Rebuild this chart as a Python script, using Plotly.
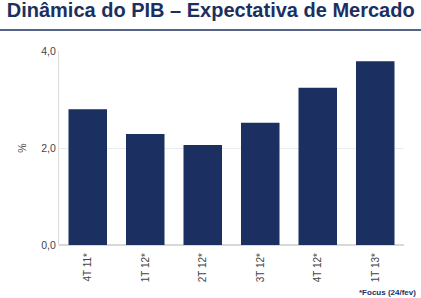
import plotly.graph_objects as go

categories = ["4T 11*", "1T 12*", "2T 12*", "3T 12*", "4T 12*", "1T 13*"]
values = [2.80, 2.29, 2.06, 2.52, 3.24, 3.79]
y_ticks = [0, 2, 4]

navy = "#1b3061"

fig = go.Figure(go.Bar(
    x=categories, y=values, marker=dict(color=navy, line=dict(width=0)),
    width=0.67,
))

fig.update_layout(
    width=421, height=298,
    margin=dict(l=59, r=17, t=51, b=53),
    paper_bgcolor="white", plot_bgcolor="white",
    separators=",.",
    showlegend=False,
    font=dict(family="Liberation Sans, Arial, sans-serif", color="#555555", size=10),
    title=dict(text="<b>Dinâmica do PIB – Expectativa de Mercado</b>",
               x=0.016, xanchor="left", y=0.99, yanchor="top",
               font=dict(size=20, color=navy)),
    shapes=[dict(type="line", xref="paper", yref="paper", x0=-0.2, x1=1.1,
                 y0=1.0 + (51 - 30) / 194, y1=1.0 + (51 - 30) / 194,
                 line=dict(color=navy, width=1.5))],
    annotations=[dict(text="<b>*Focus (24/fev)</b>", xref="paper", yref="paper",
                      x=1.04, y=-0.245, xanchor="right", yanchor="middle",
                      showarrow=False, font=dict(size=8, color=navy))],
)
fig.update_xaxes(tickangle=-90, showline=False, ticks="", ticklabelstandoff=5,
                 automargin=False, tickfont=dict(size=10, color="#444444"))
fig.update_yaxes(range=[0, 4], tickvals=y_ticks, tickformat=".1f",
                 showgrid=True, gridcolor="#ececec", zeroline=True, zerolinecolor="#d8d8d8",
                 showline=True, linecolor="#dcdcdc",
                 tickfont=dict(size=10.5, color="#444444"),
                 title=dict(text="%", font=dict(size=10.5, color="#444444"), standoff=12))

fig.write_html("out.html")
